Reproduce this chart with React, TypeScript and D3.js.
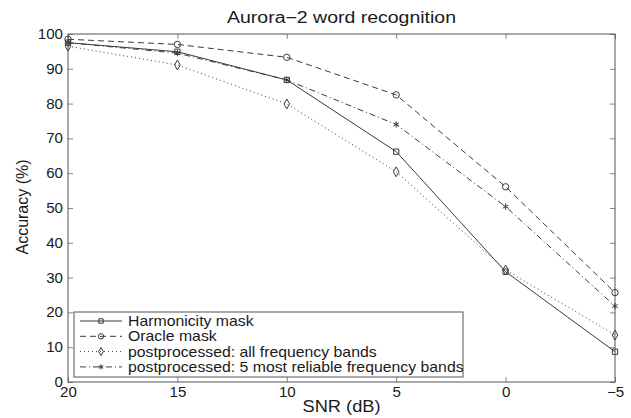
import React, { useEffect, useRef } from "react";
import * as d3 from "d3";

const snr = [20, 15, 10, 5, 0, -5];
const xTicks = [20, 15, 10, 5, 0, -5];
const yTicks = [0, 10, 20, 30, 40, 50, 60, 70, 80, 90, 100];

const harmonicity = [97.5, 94.9, 86.8, 66.2, 31.7, 8.7];
const oracle = [98.5, 97.0, 93.3, 82.5, 56.1, 25.7];
const postAll = [96.5, 91.1, 79.9, 60.4, 32.2, 13.5];
const post5 = [97.5, 94.5, 86.8, 74.0, 50.4, 21.8];

const seriesNames = [
  "Harmonicity mask",
  "Oracle mask",
  "postprocessed: all frequency bands",
  "postprocessed: 5 most reliable frequency bands",
];

const App = () => {
  const chartRef = useRef<SVGSVGElement>(null);

  useEffect(() => {
    const svg = d3.select(chartRef.current);
    svg.selectAll("*").remove();

    const width = 631;
    const height = 418;
    const margin = { top: 34, right: 16, bottom: 36, left: 68 };
    const font = "'Liberation Sans', Arial, sans-serif";
    const ink = "#3a3a3a";
    const textInk = "#1a1a1a";

    const x = d3
      .scaleLinear()
      .domain([20, -5])
      .range([margin.left, width - margin.right]);
    const y = d3
      .scaleLinear()
      .domain([0, 100])
      .range([height - margin.bottom, margin.top]);

    const series = [
      { values: harmonicity, dash: null, symbol: d3.symbolSquare, size: 28 },
      { values: oracle, dash: "6,4", symbol: d3.symbolCircle, size: 32 },
      { values: postAll, dash: "1,3", symbol: d3.symbolDiamond, size: 28 },
      { values: post5, dash: "6,3,1,3", symbol: d3.symbolAsterisk, size: 28 },
    ];

    const plotW = width - margin.left - margin.right;
    const plotH = height - margin.top - margin.bottom;
    const minus = (d: number) => String(d).replace("-", "\u2212");

    // axes, MATLAB style: inward ticks on all four sides
    svg
      .append("g")
      .attr("class", "xax")
      .attr("transform", `translate(0,${height - margin.bottom})`)
      .call(d3.axisBottom(x).tickValues(xTicks).tickSizeInner(-5).tickSizeOuter(0).tickPadding(5).tickFormat((d) => minus(d as number)));
    svg
      .append("g")
      .attr("class", "yax")
      .attr("transform", `translate(${margin.left},0)`)
      .call(d3.axisLeft(y).tickValues(yTicks).tickSizeInner(-5).tickSizeOuter(0).tickPadding(5));
    svg
      .append("g")
      .attr("transform", `translate(0,${margin.top})`)
      .call(d3.axisTop(x).tickValues(xTicks).tickSizeInner(-5).tickSizeOuter(0).tickFormat(() => ""));
    svg
      .append("g")
      .attr("transform", `translate(${width - margin.right},0)`)
      .call(d3.axisRight(y).tickValues(yTicks).tickSizeInner(-5).tickSizeOuter(0).tickFormat(() => ""));

    svg.selectAll(".domain").attr("stroke", "none");
    svg.selectAll(".tick line").attr("stroke", "#888");
    svg
      .selectAll(".tick text")
      .attr("fill", textInk)
      .style("font-family", font)
      .style("font-size", "14px");
    // the source figure is a little wider than tall, stretch the labels
    svg.selectAll(".xax .tick text").attr("transform", "scale(1.08,1)").attr("x", function () {
      return 0;
    });
    svg.selectAll(".yax .tick text").each(function () {
      const t = d3.select(this);
      t.attr("transform", `translate(-5,0) scale(1.08,1)`).attr("x", 0);
    });

    svg
      .append("rect")
      .attr("x", margin.left)
      .attr("y", margin.top)
      .attr("width", plotW)
      .attr("height", plotH)
      .attr("fill", "none")
      .attr("stroke", "#555")
      .attr("stroke-width", 1);

    // lines and markers
    const line = d3
      .line<number>()
      .x((_, i) => x(snr[i]))
      .y((d) => y(d));

    series.forEach((s) => {
      svg
        .append("path")
        .datum(s.values)
        .attr("d", line)
        .attr("fill", "none")
        .attr("stroke", ink)
        .attr("stroke-width", 1)
        .attr("stroke-dasharray", s.dash);

      svg
        .selectAll(null)
        .data(s.values)
        .join("path")
        .attr("transform", (d, i) => `translate(${x(snr[i])},${y(d)})`)
        .attr("d", d3.symbol(s.symbol, s.size)())
        .attr("fill", "none")
        .attr("stroke", ink)
        .attr("stroke-width", 1);
    });

    // legend
    const lg = { x: 74, y: 312, w: 389, h: 65 };
    svg
      .append("rect")
      .attr("x", lg.x)
      .attr("y", lg.y)
      .attr("width", lg.w)
      .attr("height", lg.h)
      .attr("fill", "#fff")
      .attr("stroke", "#555");

    series.forEach((s, i) => {
      const ly = lg.y + 9 + i * 15.3;
      svg
        .append("line")
        .attr("x1", lg.x + 6)
        .attr("x2", lg.x + 48)
        .attr("y1", ly)
        .attr("y2", ly)
        .attr("stroke", ink)
        .attr("stroke-dasharray", s.dash);
      svg
        .append("path")
        .attr("transform", `translate(${lg.x + 27},${ly})`)
        .attr("d", d3.symbol(s.symbol, s.size * 0.7)())
        .attr("fill", "none")
        .attr("stroke", ink);
      svg
        .append("text")
        .attr("transform", `translate(${lg.x + 54},${ly}) scale(1.13,1)`)
        .attr("dy", "0.35em")
        .attr("fill", textInk)
        .style("font-family", font)
        .style("font-size", "14px")
        .text(seriesNames[i]);
    });

    // title and axis labels
    svg
      .append("text")
      .attr("x", margin.left + plotW / 2)
      .attr("y", 23)
      .attr("text-anchor", "middle")
      .attr("textLength", 229)
      .attr("lengthAdjust", "spacingAndGlyphs")
      .attr("fill", textInk)
      .style("font-family", font)
      .style("font-size", "16px")
      .text("Aurora\u22122 word recognition");

    svg
      .append("text")
      .attr("x", margin.left + plotW / 2)
      .attr("y", 412)
      .attr("text-anchor", "middle")
      .attr("textLength", 78)
      .attr("lengthAdjust", "spacingAndGlyphs")
      .attr("fill", textInk)
      .style("font-family", font)
      .style("font-size", "17px")
      .text("SNR (dB)");

    svg
      .append("text")
      .attr("transform", `translate(28,${margin.top + plotH / 2 - 1}) rotate(-90)`)
      .attr("text-anchor", "middle")
      .attr("textLength", 95)
      .attr("lengthAdjust", "spacingAndGlyphs")
      .attr("fill", textInk)
      .style("font-family", font)
      .style("font-size", "16px")
      .text("Accuracy (%)");
  }, []);

  return (
    <svg
      ref={chartRef}
      width={631}
      height={418}
      viewBox="0 0 631 418"
      style={{ position: "absolute", left: 0, top: 0, background: "#fff" }}
    />
  );
};

export default App;
